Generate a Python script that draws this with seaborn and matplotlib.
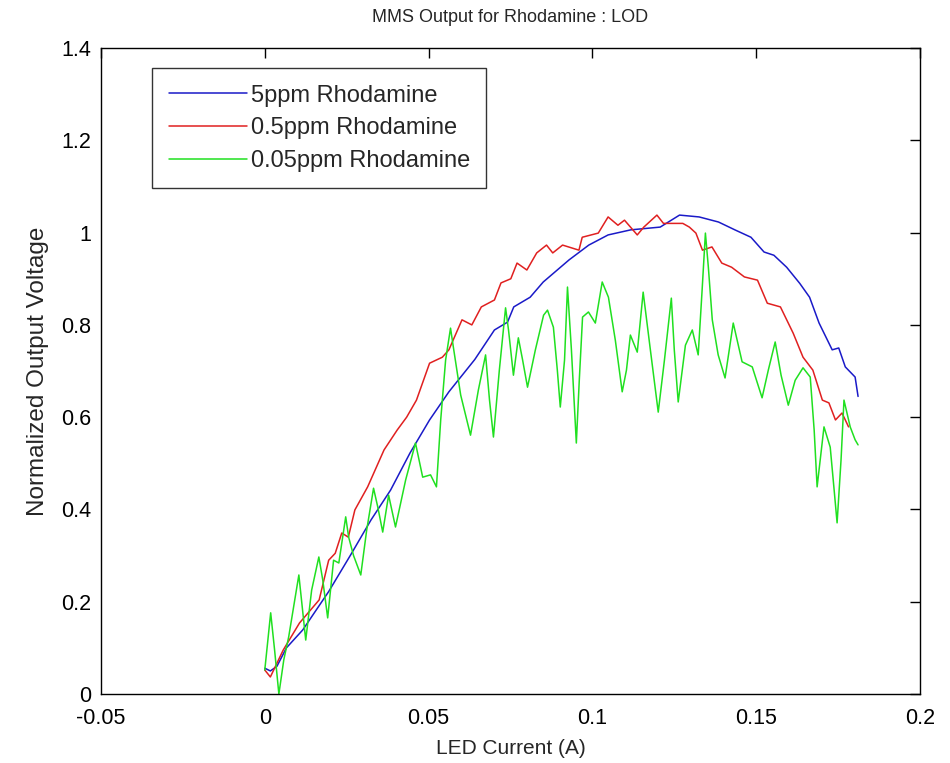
import numpy as np
import pandas as pd
import matplotlib
matplotlib.use("Agg")
import matplotlib.pyplot as plt
import seaborn as sns

labels = ["5ppm Rhodamine", "0.5ppm Rhodamine", "0.05ppm Rhodamine"]

x_5ppm = [0.0000, 0.0017, 0.0037, 0.0066, 0.0116, 0.0195, 0.0265, 0.0324, 0.0384, 0.0443,
          0.0503, 0.0562, 0.0641, 0.0701, 0.0741, 0.0760, 0.0810, 0.0850, 0.0929, 0.0989,
          0.1048, 0.1117, 0.1207, 0.1266, 0.1326, 0.1385, 0.1435, 0.1484, 0.1524, 0.1554,
          0.1593, 0.1633, 0.1663, 0.1692, 0.1732, 0.1752, 0.1772, 0.1802, 0.1811]
y_5ppm = [0.056, 0.050, 0.060, 0.100, 0.139, 0.222, 0.305, 0.377, 0.442, 0.522, 0.594,
          0.655, 0.725, 0.789, 0.806, 0.839, 0.860, 0.893, 0.941, 0.973, 0.995, 1.006,
          1.012, 1.038, 1.034, 1.023, 1.006, 0.990, 0.958, 0.951, 0.925, 0.890, 0.860,
          0.804, 0.746, 0.750, 0.709, 0.687, 0.645]

x_05ppm = [0.0000, 0.0017, 0.0056, 0.0106, 0.0166, 0.0195, 0.0215, 0.0235, 0.0255, 0.0275,
           0.0314, 0.0364, 0.0404, 0.0433, 0.0463, 0.0503, 0.0542, 0.0562, 0.0602, 0.0632,
           0.0661, 0.0701, 0.0721, 0.0751, 0.0770, 0.0800, 0.0830, 0.0860, 0.0879, 0.0909,
           0.0959, 0.0969, 0.1018, 0.1048, 0.1078, 0.1098, 0.1137, 0.1157, 0.1197, 0.1217,
           0.1276, 0.1296, 0.1316, 0.1336, 0.1365, 0.1395, 0.1425, 0.1464, 0.1504, 0.1534,
           0.1574, 0.1613, 0.1643, 0.1673, 0.1702, 0.1722, 0.1742, 0.1762, 0.1782]
y_05ppm = [0.052, 0.037, 0.095, 0.154, 0.204, 0.290, 0.305, 0.349, 0.340, 0.399, 0.449,
           0.529, 0.572, 0.600, 0.637, 0.717, 0.730, 0.746, 0.811, 0.800, 0.839, 0.854,
           0.891, 0.900, 0.934, 0.919, 0.956, 0.973, 0.956, 0.973, 0.962, 0.990, 0.999,
           1.034, 1.016, 1.027, 0.995, 1.012, 1.038, 1.020, 1.020, 1.012, 0.999, 0.962,
           0.969, 0.934, 0.925, 0.904, 0.897, 0.847, 0.839, 0.782, 0.730, 0.702, 0.637,
           0.631, 0.594, 0.609, 0.579]

x_005ppm = [0.0000, 0.0018, 0.0030, 0.0043, 0.0058, 0.0073, 0.0104, 0.0125, 0.0143, 0.0165,
            0.0177, 0.0192, 0.0210, 0.0226, 0.0247, 0.0256, 0.0271, 0.0293, 0.0311, 0.0332,
            0.0345, 0.0360, 0.0378, 0.0399, 0.0430, 0.0460, 0.0482, 0.0506, 0.0524, 0.0537,
            0.0552, 0.0567, 0.0576, 0.0598, 0.0628, 0.0652, 0.0674, 0.0686, 0.0698, 0.0716,
            0.0735, 0.0744, 0.0759, 0.0774, 0.0787, 0.0802, 0.0826, 0.0851, 0.0863, 0.0881,
            0.0893, 0.0902, 0.0915, 0.0924, 0.0936, 0.0951, 0.0960, 0.0970, 0.0988, 0.1009,
            0.1030, 0.1049, 0.1070, 0.1091, 0.1104, 0.1116, 0.1137, 0.1155, 0.1177, 0.1201,
            0.1220, 0.1241, 0.1250, 0.1262, 0.1284, 0.1305, 0.1323, 0.1335, 0.1345, 0.1354,
            0.1366, 0.1384, 0.1405, 0.1430, 0.1457, 0.1488, 0.1518, 0.1537, 0.1558, 0.1576,
            0.1598, 0.1619, 0.1643, 0.1665, 0.1677, 0.1686, 0.1707, 0.1726, 0.1738, 0.1747,
            0.1759, 0.1768, 0.1787, 0.1802, 0.1811]
y_005ppm = [0.052, 0.176, 0.095, 0.000, 0.074, 0.124, 0.258, 0.117, 0.225, 0.297,
            0.247, 0.165, 0.290, 0.284, 0.384, 0.340, 0.300, 0.258, 0.355, 0.446,
            0.405, 0.351, 0.431, 0.362, 0.464, 0.544, 0.470, 0.475, 0.449, 0.594,
            0.724, 0.793, 0.750, 0.648, 0.561, 0.659, 0.735, 0.637, 0.557, 0.702,
            0.837, 0.789, 0.691, 0.772, 0.724, 0.665, 0.746, 0.821, 0.832, 0.795,
            0.702, 0.622, 0.724, 0.882, 0.746, 0.544, 0.680, 0.817, 0.828, 0.804,
            0.893, 0.860, 0.767, 0.655, 0.702, 0.778, 0.741, 0.871, 0.746, 0.611,
            0.724, 0.858, 0.746, 0.633, 0.756, 0.789, 0.735, 0.876, 0.999, 0.925,
            0.811, 0.735, 0.685, 0.804, 0.720, 0.709, 0.642, 0.702, 0.763, 0.691,
            0.626, 0.680, 0.707, 0.687, 0.572, 0.449, 0.579, 0.535, 0.442, 0.371,
            0.507, 0.637, 0.579, 0.551, 0.540]

x_ticks = [-0.05, 0, 0.05, 0.1, 0.15, 0.2]
x_tick_labels = ["-0.05", "0", "0.05", "0.1", "0.15", "0.2"]
y_ticks = [0, 0.2, 0.4, 0.6, 0.8, 1.0, 1.2, 1.4]
y_tick_labels = ["0", "0.2", "0.4", "0.6", "0.8", "1", "1.2", "1.4"]

sns.set_style("white")
plt.rcParams["font.family"] = ["Liberation Sans", "DejaVu Sans"]

df = pd.concat([
    pd.DataFrame({"x": x_5ppm, "y": y_5ppm, "series": labels[0]}),
    pd.DataFrame({"x": x_05ppm, "y": y_05ppm, "series": labels[1]}),
    pd.DataFrame({"x": x_005ppm, "y": y_005ppm, "series": labels[2]}),
], ignore_index=True)

colors = {labels[0]: "#1a1ac8", labels[1]: "#e02020", labels[2]: "#20e020"}

fig = plt.figure(figsize=(9.5, 7.63), dpi=100)
ax = fig.add_axes([0.1063, 0.0904, 0.8621, 0.8466])

sns.lineplot(data=df, x="x", y="y", hue="series", palette=colors, hue_order=labels,
             estimator=None, sort=False, linewidth=1.1, ax=ax)

ax.set_xlim(-0.05, 0.2)
ax.set_ylim(0, 1.4)
ax.set_xticks(x_ticks)
ax.set_xticklabels(x_tick_labels)
ax.set_yticks(y_ticks)
ax.set_yticklabels(y_tick_labels)
ax.tick_params(direction="in", length=7, width=1, top=True, right=True,
               labelsize=15.5, colors="black")
ax.tick_params(axis="x", pad=10)
ax.tick_params(axis="y", pad=7)
for s in ax.spines.values():
    s.set_visible(True)
    s.set_color("black")
    s.set_linewidth(1)

ax.set_xlabel("LED Current (A)", fontsize=15, labelpad=7)
ax.set_ylabel("Normalized Output Voltage", fontsize=17.5, labelpad=9)
ax.set_title("MMS Output for Rhodamine : LOD", fontsize=13, pad=19)

leg = ax.legend(loc="upper left", bbox_to_anchor=(0.0625, 0.969), fontsize=17,
                frameon=True, fancybox=False, edgecolor="black", handlelength=3.3,
                handletextpad=0.17, borderpad=0.7, labelspacing=0.45, borderaxespad=0)
leg.get_frame().set_linewidth(1)
leg.set_title(None)

fig.savefig("out.png", dpi=100, facecolor="white")
